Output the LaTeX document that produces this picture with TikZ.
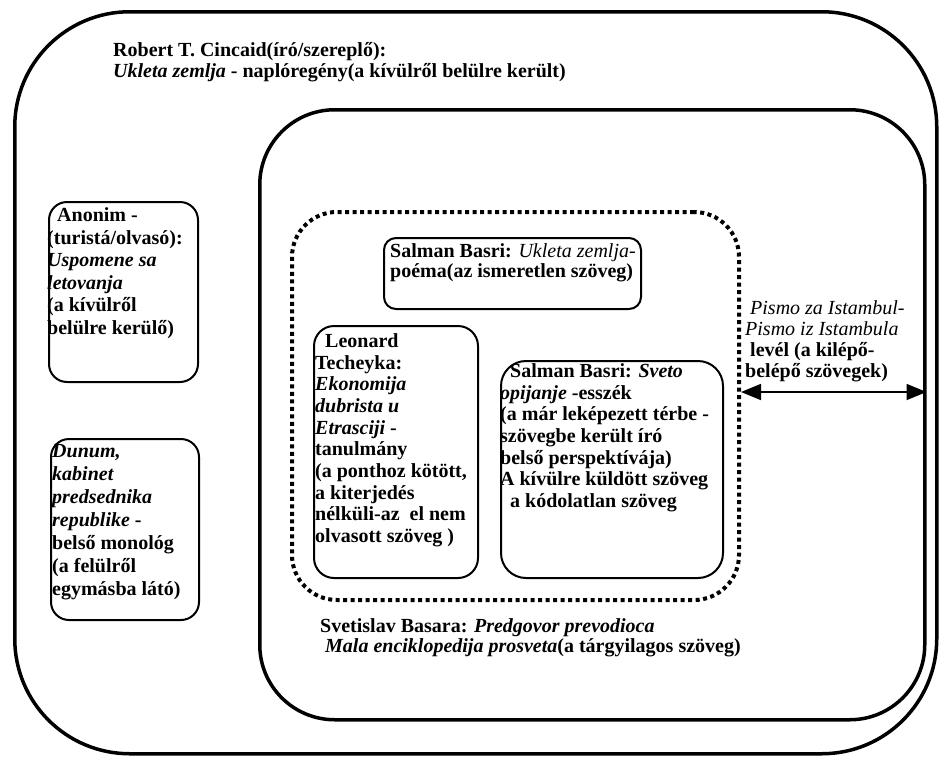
\documentclass[tikz,border=0pt]{standalone}
\usepackage{fontspec}
\setmainfont{Liberation Serif}
\usetikzlibrary{arrows.meta}
\tikzset{bigtip/.tip={Triangle[length=20pt,width=16pt]}}
\begin{document}
\begin{tikzpicture}[x=1pt,y=-1pt,
  frame/.style={draw, line width=3.5pt, rounded corners=#1, anchor=north west, inner sep=0pt},
  box/.style={draw, line width=2pt, rounded corners=#1, anchor=north west, inner sep=0pt},
  dotbox/.style={draw, line width=4pt, dash pattern=on 4pt off 3.5pt, rounded corners=45pt, anchor=north west, inner sep=0pt},
  txt/.style={anchor=north west, inner sep=0pt, align=left, font=\fontsize{20}{21.7}\selectfont\bfseries}
]
\useasboundingbox (0,0) rectangle (939,763);
% frames
\node[frame=115pt, minimum width=922pt, minimum height=742pt] (outer) at (13,10) {};
\node[frame=75pt, minimum width=665pt, minimum height=610pt] (inner) at (258,108) {};
\node[dotbox, minimum width=447pt, minimum height=388pt] (dots) at (290,210) {};
% boxes
\node[box=18pt, minimum width=149pt, minimum height=180pt] (anonbox) at (48,201) {};
\node[box=18pt, minimum width=148pt, minimum height=181pt] (dunumbox) at (50,438) {};
\node[box=12pt, minimum width=257pt, minimum height=71pt] (sb1box) at (383,237) {};
\node[box=20pt, minimum width=164pt, minimum height=252pt] (leobox) at (313,325) {};
\node[box=25pt, minimum width=222pt, minimum height=217pt] (sb2box) at (500,360) {};
% texts
\node[txt, font=\fontsize{20}{20}\selectfont\bfseries] (title) at (113,42)
  {\strut Robert T. Cincaid(író/szereplő):\\\textit{Ukleta zemlja} - naplóregény(a kívülről belülre került)};
\node[txt, font=\fontsize{20}{22.5}\selectfont\bfseries] (anon) at (47,206)
  {\strut\ \ Anonim -\\(turistá/olvasó):\\\textit{Uspomene sa}\\\textit{letovanja}\\(a kívülről\\belülre kerülő)};
\node[txt, font=\fontsize{20}{23}\selectfont\bfseries] (dunum) at (52,441)
  {\strut\textit{Dunum,}\\\textit{kabinet}\\\textit{predsednika}\\\textit{republike} -\\belső monológ\\(a felülről\\egymásba látó)};
\node[txt, font=\fontsize{20}{20}\selectfont\bfseries] (sb1) at (390,243)
  {\strut Salman Basri: {\mdseries\itshape Ukleta zemlja-}\\poéma(az ismeretlen szöveg)};
\node[txt] (leo) at (315,332)
  {\strut\ \ Leonard\\Techeyka:\\\textit{Ekonomija}\\\textit{dubrista u}\\\textit{Etrasciji} -\\tanulmány\\(a ponthoz kötött,\\a kiterjedés\\nélküli-az\ \ el nem\\olvasott szöveg )};
\node[txt] (sb2) at (500,362)
  {\strut\ \ Salman Basri: \textit{Sveto}\\\textit{opijanje} -esszék\\(a már leképezett térbe -\\szövegbe került író\\belső perspektívája)\\A kívülre küldött szöveg\\\ \ a kódolatlan szöveg};
\node[txt, font=\fontsize{20}{21}\selectfont\bfseries] (pismo) at (745,300)
  {\strut\ {\mdseries\itshape Pismo za Istambul-}\\{\mdseries\itshape Pismo iz Istambula}\\\ levél (a kilépő-\\belépő szövegek)};
\node[txt, font=\fontsize{20}{20}\selectfont\bfseries] (svet) at (320,618)
  {\strut Svetislav Basara: \textit{Predgovor prevodioca}\\\ \textit{Mala enciklopedija prosveta}(a tárgyilagos szöveg)};
% arrow
\coordinate (arrowy) at (0,392);
\draw[{bigtip}-{bigtip}, line width=1.8pt] (dots.east |- arrowy) -- (inner.east |- arrowy);
\end{tikzpicture}
\end{document}
